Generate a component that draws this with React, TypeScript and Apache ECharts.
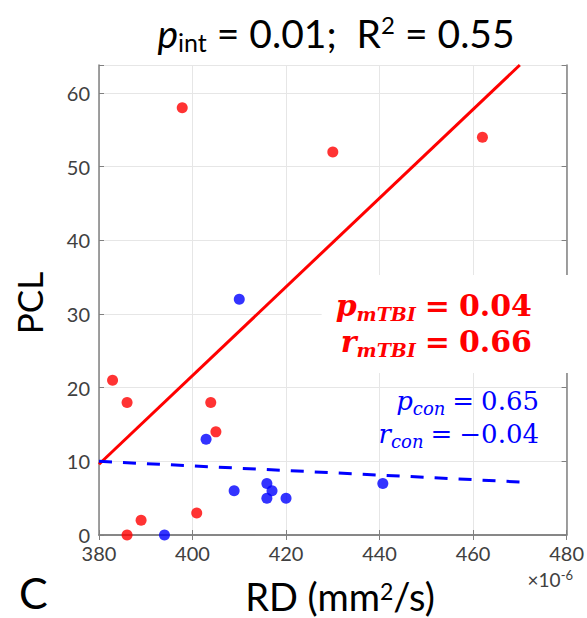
import React, { useEffect, useRef } from "react";
import * as echarts from "echarts";

// mTBI group (red)
const mtbiX = [397.8, 430, 462, 382.9, 386, 403.9, 405, 400.9, 389, 386];
const mtbiY = [58, 52, 54, 21, 18, 18, 14, 3, 2, 0];
// control group (blue)
const conX = [410, 402.9, 408.9, 415.9, 417, 415.9, 420, 440.7, 394];
const conY = [32, 13, 6, 7, 6, 5, 5, 7, 0];
// regression fits
const mtbiFitX = [380, 470];
const mtbiFitY = [9.6, 63.8];
const conFitX = [380, 470];
const conFitY = [10, 7.2];
// axes
const xMin = 380;
const xMax = 480;
const xStep = 20;
const yMin = 0;
const yMax = 63.8;
const yStep = 10;

const RED = "#ff0000";
const BLUE = "#0000ff";
const AXIS = "#808080";
const LABEL = "#404040";
const GRID = "#e6e6e6";
const FONT = "Lato";
const MATH = "DejaVu Serif";

const zip = (xs: number[], ys: number[]) => xs.map((x, i) => [x, ys[i]]);

export default function App() {
  const ref = useRef<HTMLDivElement>(null);
  useEffect(() => {
    document.body.style.margin = "0";
    const chart = echarts.init(ref.current!, undefined, { renderer: "svg" });
    const axisCommon = {
      axisLine: { show: true, lineStyle: { color: AXIS, width: 1.5 } },
      axisTick: { show: true, inside: true, length: 5, lineStyle: { color: AXIS } },
      splitLine: { show: false },
    };
    chart.setOption({
      animation: false,
      backgroundColor: "#fff",
      grid: { left: 99, right: 17, top: 65, bottom: 83, containLabel: false },
      xAxis: [
        {
          type: "value",
          min: xMin,
          max: xMax,
          interval: xStep,
          position: "bottom",
          ...axisCommon,
          splitLine: { show: true, lineStyle: { color: GRID, width: 1 } },
          axisLabel: { color: LABEL, fontSize: 20, fontFamily: FONT, margin: 10, lineHeight: 15 },
        },
        {
          type: "value",
          min: xMin,
          max: xMax,
          interval: xStep,
          position: "top",
          ...axisCommon,
          axisLabel: { show: false },
        },
      ],
      yAxis: [
        {
          type: "value",
          min: yMin,
          max: yMax,
          interval: yStep,
          position: "left",
          ...axisCommon,
          splitLine: { show: true, lineStyle: { color: GRID, width: 1 } },
          axisLabel: {
            color: LABEL,
            fontSize: 20,
            fontFamily: FONT,
            margin: 9,
            lineHeight: 14,
            formatter: (v: number) => (Math.abs(v % 10) < 1e-9 ? String(v) : ""),
          },
        },
        {
          type: "value",
          min: yMin,
          max: yMax,
          interval: yStep,
          position: "right",
          ...axisCommon,
          axisLabel: { show: false },
        },
      ],
      series: [
        {
          type: "line",
          data: zip(mtbiFitX, mtbiFitY),
          showSymbol: false,
          lineStyle: { color: RED, width: 3 },
          z: 2,
        },
        {
          type: "line",
          data: zip(conFitX, conFitY),
          showSymbol: false,
          lineStyle: { color: BLUE, width: 3, type: [13, 11] },
          z: 2,
        },
        {
          type: "scatter",
          data: zip(mtbiX, mtbiY),
          symbolSize: 11,
          itemStyle: { color: RED },
          z: 3,
        },
        {
          type: "scatter",
          data: zip(conX, conY),
          symbolSize: 11,
          itemStyle: { color: BLUE },
          z: 3,
        },
      ],
      graphic: [
        {
          type: "text",
          x: 336,
          y: 33,
          style: {
            text: "{i|p}{s|int}{n| = 0.01;  R}{u|2}{n| = 0.55}",
            align: "center",
            verticalAlign: "middle",
            rich: {
              i: { fontFamily: FONT, fontStyle: "italic", fontSize: 39, fill: "#000", lineHeight: 42 },
              s: { fontFamily: FONT, fontSize: 25, fill: "#000", verticalAlign: "bottom", lineHeight: 26 },
              n: { fontFamily: FONT, fontSize: 39, fill: "#000", lineHeight: 42 },
              u: { fontFamily: FONT, fontSize: 24, fill: "#000", verticalAlign: "top", lineHeight: 26 },
            },
          },
        },
        {
          type: "text",
          x: 29,
          y: 303,
          rotation: Math.PI / 2,
          style: {
            text: "PCL",
            fontFamily: FONT,
            fontSize: 35,
            fill: "#000",
            align: "center",
            verticalAlign: "middle",
          },
        },
        {
          type: "text",
          x: 340,
          y: 596,
          style: {
            text: "{n|RD (mm}{u|2}{n|/s)}",
            align: "center",
            verticalAlign: "middle",
            rich: {
              n: { fontFamily: FONT, fontSize: 38, fill: "#000", lineHeight: 34 },
              u: { fontFamily: FONT, fontSize: 23, fill: "#000", verticalAlign: "top", lineHeight: 22 },
            },
          },
        },
        {
          type: "text",
          x: 19,
          y: 592,
          style: {
            text: "C",
            fontFamily: FONT,
            fontSize: 43,
            lineHeight: 36,
            fill: "#000",
            align: "left",
            verticalAlign: "middle",
          },
        },
        {
          type: "text",
          x: 573,
          y: 579,
          style: {
            text: "{n|×10}{u|-6}",
            align: "right",
            verticalAlign: "middle",
            rich: {
              n: { fontFamily: FONT, fontSize: 19, fill: LABEL, lineHeight: 22 },
              u: { fontFamily: FONT, fontSize: 13, fill: LABEL, verticalAlign: "top", lineHeight: 14 },
            },
          },
        },
        {
          type: "text",
          x: 569,
          y: 324,
          z: 10,
          style: {
            text: "{v|p}{s|mTBI}{e|=}{n|0.04}\n{v|r}{s|mTBI}{e|=}{n|0.66}",
            align: "right",
            verticalAlign: "middle",
            backgroundColor: "#fff",
            padding: [12, 37, 14, 14],
            rich: {
              v: { fontFamily: MATH, fontStyle: "italic", fontWeight: "bold", fontSize: 30, fill: RED, lineHeight: 36 },
              s: { fontFamily: MATH, fontStyle: "italic", fontWeight: "bold", fontSize: 19, fill: RED, verticalAlign: "bottom", lineHeight: 26 },
              e: { fontFamily: MATH, fontWeight: "bold", fontSize: 30, fill: RED, lineHeight: 36, padding: [0, 9, 0, 9] },
              n: { fontFamily: MATH, fontWeight: "bold", fontSize: 30, fill: RED, lineHeight: 36 },
            },
          },
        },
        {
          type: "text",
          x: 539,
          y: 417,
          z: 10,
          style: {
            text: "{v|p}{s|con}{e|=}{n|0.65}\n{v|r}{s|con}{e|=}{n|\u22120.04}",
            align: "right",
            verticalAlign: "middle",
            rich: {
              v: { fontFamily: MATH, fontStyle: "italic", fontSize: 26, fill: BLUE, lineHeight: 33 },
              s: { fontFamily: MATH, fontStyle: "italic", fontSize: 18, fill: BLUE, verticalAlign: "bottom", lineHeight: 23 },
              e: { fontFamily: MATH, fontSize: 26, fill: BLUE, lineHeight: 33, padding: [0, 7, 0, 7] },
              n: { fontFamily: MATH, fontSize: 26, fill: BLUE, lineHeight: 33 },
            },
          },
        },
      ],
    });
    return () => chart.dispose();
  }, []);
  return <div ref={ref} style={{ width: 587, height: 618 }} />;
}
